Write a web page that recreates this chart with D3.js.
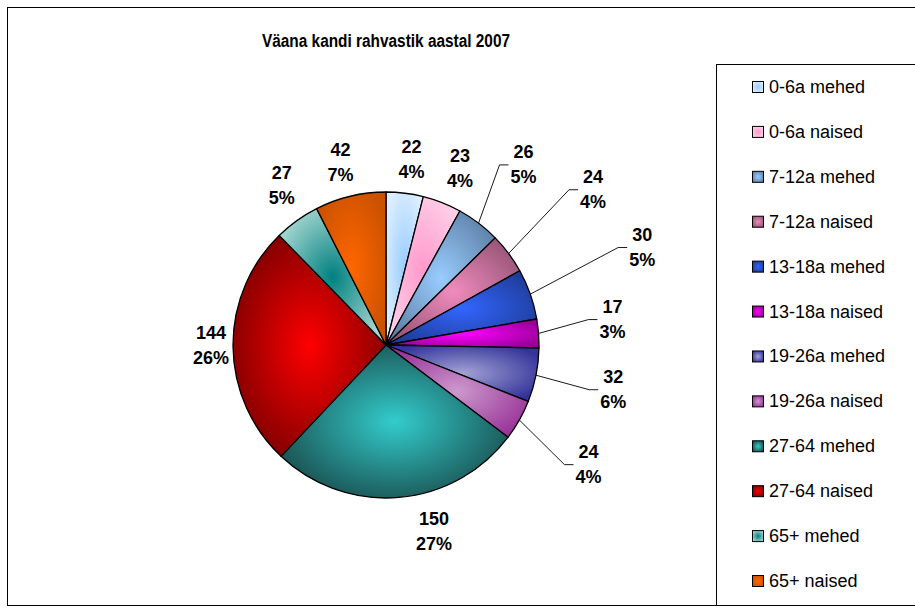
<!DOCTYPE html>
<html>
<head>
<meta charset="utf-8">
<script src="https://cdn.jsdelivr.net/npm/d3@7"></script>
<style>
  body { margin: 0; background: #fff; }
  svg { display: block; font-family: Arial, "Liberation Sans", sans-serif; }
</style>
</head>
<body>
<div id="chart"></div>
<script>
// --- data ---
const title = 'Väana kandi rahvastik aastal 2007';
const categories = ['0-6a mehed', '0-6a naised', '7-12a mehed', '7-12a naised',
  '13-18a mehed', '13-18a naised', '19-26a mehed', '19-26a naised',
  '27-64 mehed', '27-64 naised', '65+ mehed', '65+ naised'];
const values = [22, 23, 26, 24, 30, 17, 32, 24, 150, 144, 27, 42];

// gradient colours (middle of slice -> its edges)
const centerColors = ['#99ccff', '#ff99cc', '#99ccff', '#f08cbe', '#3366ff', '#ff00ff',
  '#a3a3d6', '#cc99cc', '#33cccc', '#ff0000', '#008080', '#ff6600'];
const edgeColors = ['#ddeeff', '#ffd0e8', '#5f82a8', '#995577', '#1e3c99', '#990099',
  '#333399', '#993399', '#1a4d4d', '#7a0000', '#a8d8d2', '#cc5200'];

// label nudges away from the default outside spot, and which labels get a leader line
const labelShift = [[2, 4], [4, 1], [22, -28], [54, -41], [76, -34], [36, -11],
  [40, 7], [36, 26], [32, -4], [16, -1], [7, -4], [-1, 3]];
const hasLeader = [false, false, true, true, true, true, true, true, false, false, false, false];

const width = 915, height = 610;
const cx = 386, cy = 345, radius = 153;

const svg = d3.select('#chart').append('svg')
    .attr('width', width)
    .attr('height', height);

// gradients, one per category
const defs = svg.append('defs');
categories.forEach((c, i) => {
  const g = defs.append('radialGradient')
      .attr('id', 'grad' + i)
      .attr('cx', '50%').attr('cy', '50%').attr('r', '58%');
  g.append('stop').attr('offset', '0%').attr('stop-color', centerColors[i]);
  g.append('stop').attr('offset', '100%').attr('stop-color', edgeColors[i]);
});

// chart frame
svg.append('rect')
    .attr('x', 7.5).attr('y', 7.5)
    .attr('width', 930).attr('height', 598)
    .attr('fill', 'none')
    .attr('stroke', '#000');

// title is drawn a bit condensed, like in the original
svg.append('text')
    .attr('x', 386).attr('y', 47)
    .attr('text-anchor', 'middle')
    .attr('textLength', 248)
    .attr('lengthAdjust', 'spacingAndGlyphs')
    .style('font-size', '18px')
    .style('font-weight', 'bold')
    .text(title);

// pie
const total = d3.sum(values);
const pie = d3.pie().sort(null).value(d => d);
const arcs = pie(values);
const arc = d3.arc().innerRadius(0).outerRadius(radius);
const edgeArc = d3.arc().innerRadius(radius).outerRadius(radius);
const labelArc = d3.arc().innerRadius(radius + 38).outerRadius(radius + 38);

const chart = svg.append('g')
    .attr('transform', `translate(${cx},${cy})`);

chart.selectAll('.slice')
    .data(arcs)
  .join('path')
    .attr('class', 'slice')
    .attr('d', arc)
    .attr('fill', (d, i) => `url(#grad${i})`)
    .attr('stroke', '#000')
    .attr('stroke-width', 1.3)
    .attr('stroke-linejoin', 'round');

// data labels
const labels = chart.selectAll('.label')
    .data(arcs)
  .join('g')
    .attr('class', 'label')
    .attr('transform', (d, i) => {
      const [x, y] = labelArc.centroid(d);
      return `translate(${x + labelShift[i][0]},${y + labelShift[i][1]})`;
    });

labels.append('text')
    .attr('text-anchor', 'middle')
    .attr('dominant-baseline', 'central')
    .attr('y', -12.5)
    .style('font-size', '18px')
    .style('font-weight', 'bold')
    .text(d => d.value);

labels.append('text')
    .attr('text-anchor', 'middle')
    .attr('dominant-baseline', 'central')
    .attr('y', 12.5)
    .style('font-size', '18px')
    .style('font-weight', 'bold')
    .text(d => Math.round(d.value / total * 100) + '%');

// leader lines: slice edge -> elbow -> left side of label
labels.each(function(d, i) {
  if (!hasLeader[i]) return;
  const box = this.getBBox();
  const [lx, ly] = labelArc.centroid(d);
  const tx = lx + labelShift[i][0], ty = ly + labelShift[i][1];
  const endX = tx + box.x - 2;
  const [sx, sy] = edgeArc.centroid(d);
  chart.append('polyline')
      .attr('points', `${sx},${sy} ${endX - 9},${ty} ${endX},${ty}`)
      .attr('fill', 'none')
      .attr('stroke', '#000')
      .attr('stroke-width', 0.9);
});

// legend
const legend = svg.append('g').attr('class', 'legend');
legend.append('rect')
    .attr('x', 716.5).attr('y', 64.5)
    .attr('width', 220).attr('height', 541)
    .attr('fill', '#fff')
    .attr('stroke', '#000');

const y = d3.scalePoint()
    .domain(categories)
    .range([87, 581]);

const item = legend.selectAll('.item')
    .data(categories)
  .join('g')
    .attr('class', 'item')
    .attr('transform', d => `translate(752,${y(d)})`);

item.append('rect')
    .attr('x', 0.5).attr('y', -5.5)
    .attr('width', 11).attr('height', 11)
    .attr('fill', (d, i) => `url(#grad${i})`)
    .attr('stroke', '#000');

item.append('text')
    .attr('x', 17)
    .attr('dominant-baseline', 'central')
    .style('font-size', '18px')
    .text(d => d);
</script>
</body>
</html>
